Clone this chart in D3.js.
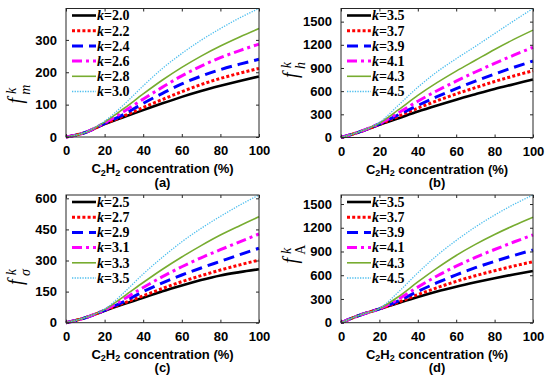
<!DOCTYPE html>
<html>
<head>
<meta charset="utf-8">
<script src="https://cdn.jsdelivr.net/npm/d3@7"></script>
<style>
body { margin: 0; background: #fff; }
</style>
</head>
<body>
<svg id="chart" width="550" height="377"></svg>
<script>
// C2H2 concentration (%) at which the curves were read
let conc = [0, 10, 20, 30, 40, 50, 60, 70, 80, 90, 100];
let xTicks = [0, 20, 40, 60, 80, 100];

// (a) f_m^k
let kA = ["2.0", "2.2", "2.4", "2.6", "2.8", "3.0"];
let fmA = [
    [0, 14, 40, 62, 83, 104, 124, 142, 158, 173, 187],
    [0, 14, 41, 65, 91, 116, 140, 162, 181, 197, 212],
    [0, 14, 42, 70, 104, 135, 164, 188, 208, 225, 240],
    [0, 14, 44, 79, 117, 154, 189, 219, 245, 267, 287],
    [0, 14, 46, 88, 133, 176, 215, 250, 281, 309, 335],
    [0, 15, 49, 100, 158, 212, 258, 299, 335, 368, 397]
];
let yTicksA = [0, 100, 200, 300];

// (b) f_h^k
let kB = ["3.5", "3.7", "3.9", "4.1", "4.3", "4.5"];
let fhB = [
    [0, 75, 165, 250, 336, 415, 490, 560, 628, 690, 752],
    [0, 75, 170, 275, 380, 475, 565, 645, 725, 797, 865],
    [0, 76, 175, 295, 415, 528, 632, 730, 822, 908, 990],
    [0, 77, 180, 320, 470, 605, 730, 848, 960, 1066, 1168],
    [0, 78, 185, 360, 545, 710, 860, 1000, 1140, 1270, 1390],
    [0, 80, 195, 420, 650, 850, 1020, 1180, 1345, 1510, 1670]
];
let yTicksB = [0, 300, 600, 900, 1200, 1500];

// (c) f_sigma^k
let kC = ["2.5", "2.7", "2.9", "3.1", "3.3", "3.5"];
let fsC = [
    [0, 24, 58, 90, 120, 152, 180, 206, 228, 244, 258],
    [0, 24, 59, 95, 130, 165, 198, 227, 254, 279, 302],
    [0, 24, 60, 102, 150, 192, 230, 264, 296, 328, 359],
    [0, 24, 61, 114, 170, 222, 270, 313, 352, 390, 428],
    [0, 25, 63, 127, 194, 258, 317, 372, 423, 468, 511],
    [0, 25, 65, 145, 235, 316, 390, 455, 513, 567, 616]
];
let yTicksC = [0, 150, 300, 450, 600];

// (d) f_A^k
let kD = ["3.5", "3.7", "3.9", "4.1", "4.3", "4.5"];
let faD = [
    [0, 97, 173, 250, 325, 395, 455, 510, 562, 610, 654],
    [0, 97, 174, 260, 355, 442, 522, 594, 657, 716, 771],
    [0, 97, 175, 275, 395, 505, 605, 695, 775, 850, 919],
    [0, 98, 176, 300, 450, 590, 715, 825, 925, 1020, 1109],
    [0, 98, 178, 330, 515, 690, 850, 990, 1115, 1228, 1332],
    [0, 99, 180, 390, 630, 850, 1040, 1210, 1360, 1495, 1614]
];
let yTicksD = [0, 300, 600, 900, 1200, 1500];

let lineStyles = [
    {color: "#000000", width: 2.6, dash: null},
    {color: "#ff0000", width: 3, dash: "3,2.2"},
    {color: "#0000ff", width: 3, dash: "11,6"},
    {color: "#ff00ff", width: 3, dash: "10,4,3,4"},
    {color: "#77ac30", width: 1.6, dash: null},
    {color: "#4dbeee", width: 1.3, dash: "1.3,1.3"}
];

let axisColor = "#262626";
let svg = d3.select("#chart");

function drawPanel(p) {
    let x = d3.scaleLinear().domain([0, 100]).range([p.left, p.left + p.w]);
    let ymax = d3.max(p.series, s => d3.max(s));
    let y = d3.scaleLinear().domain([0, ymax]).range([p.top + p.h, p.top]);

    let g = svg.append("g");

    // curves
    let line = d3.line()
        .x((d, i) => x(conc[i]))
        .y(d => y(d))
        .curve(d3.curveMonotoneX);

    p.series.forEach((s, i) => {
        let st = lineStyles[i];
        g.append("path")
            .attr("d", line(s))
            .attr("fill", "none")
            .attr("stroke", st.color)
            .attr("stroke-width", st.width)
            .attr("stroke-dasharray", st.dash);
    });

    // axes, ticks inward on all four sides
    let bottom = d3.axisBottom(x).tickValues(xTicks).tickSizeInner(-3).tickSizeOuter(0).tickPadding(9);
    let top = d3.axisTop(x).tickValues(xTicks).tickSizeInner(-3).tickSizeOuter(0).tickFormat("");
    let left = d3.axisLeft(y).tickValues(p.yTicks).tickSizeInner(-3).tickSizeOuter(0)
        .tickPadding(9).tickFormat(d3.format("d"));
    let right = d3.axisRight(y).tickValues(p.yTicks).tickSizeInner(-3).tickSizeOuter(0).tickFormat("");

    let ax = [
        g.append("g").attr("transform", "translate(0," + (p.top + p.h) + ")").call(bottom),
        g.append("g").attr("transform", "translate(0," + p.top + ")").call(top),
        g.append("g").attr("transform", "translate(" + p.left + ",0)").call(left),
        g.append("g").attr("transform", "translate(" + (p.left + p.w) + ",0)").call(right)
    ];
    ax.forEach(a => {
        a.select(".domain").remove();
        a.selectAll("line").attr("stroke", axisColor);
        a.selectAll("text")
            .attr("fill", "#000")
            .style("font-family", "'Liberation Sans', Arial, sans-serif")
            .style("font-weight", "bold")
            .style("font-size", "13px");
    });

    g.append("rect")
        .attr("x", p.left).attr("y", p.top)
        .attr("width", p.w).attr("height", p.h)
        .attr("fill", "none")
        .attr("stroke", axisColor)
        .attr("stroke-width", 1);

    // legend (no box)
    p.keys.forEach((k, i) => {
        let st = lineStyles[i];
        let ly = p.top + 7 + i * 15.2;
        g.append("line")
            .attr("x1", p.left + 6).attr("x2", p.left + 30)
            .attr("y1", ly).attr("y2", ly)
            .attr("stroke", st.color)
            .attr("stroke-width", st.width)
            .attr("stroke-dasharray", st.dash);
        let t = g.append("text")
            .attr("x", p.left + 31).attr("y", ly + 4.8)
            .style("font-family", "'Liberation Serif', 'Times New Roman', serif")
            .style("font-weight", "bold")
            .style("font-size", "14px");
        t.append("tspan").style("font-style", "italic").text("k");
        t.append("tspan").text("=" + k);
    });

    // x label
    let xl = g.append("text")
        .attr("x", p.left + p.w / 2).attr("y", p.top + p.h + 36)
        .attr("text-anchor", "middle")
        .style("font-family", "'Liberation Sans', Arial, sans-serif")
        .style("font-weight", "bold")
        .style("font-size", "13px");
    xl.append("tspan").text("C");
    xl.append("tspan").attr("dy", 2.5).style("font-size", "9px").text("2");
    xl.append("tspan").attr("dy", -2.5).text("H");
    xl.append("tspan").attr("dy", 2.5).style("font-size", "9px").text("2");
    xl.append("tspan").attr("dy", -2.5).text(" concentration (%)");

    g.append("text")
        .attr("x", p.left + p.w / 2).attr("y", p.top + p.h + 49.5)
        .attr("text-anchor", "middle")
        .style("font-family", "'Liberation Sans', Arial, sans-serif")
        .style("font-weight", "bold")
        .style("font-size", "13px")
        .text(p.tag);

    // y label f^k_sub
    let yl = g.append("text")
        .attr("transform", "translate(" + (p.left - 44) + "," + p.labelY + ") rotate(-90)")
        .attr("text-anchor", "middle")
        .style("font-family", "'Liberation Serif', 'Times New Roman', serif")
        .style("font-size", "20px")
        .style("font-style", "italic");
    yl.append("tspan").text("f");
    yl.append("tspan").attr("dx", 4).attr("dy", -6).style("font-size", "14px").text("k");
    yl.append("tspan").attr("dx", -7).attr("dy", 14).style("font-size", "14px")
        .style("font-style", p.subStyle).text(p.sub);
}

drawPanel({left: 66, top: 8.5, w: 193, h: 128.5, series: fmA, keys: kA, yTicks: yTicksA,
    sub: "m", subStyle: "italic", tag: "(a)", labelY: 94});
drawPanel({left: 341, top: 8.5, w: 192, h: 129, series: fhB, keys: kB, yTicks: yTicksB,
    sub: "h", subStyle: "italic", tag: "(b)", labelY: 70});
drawPanel({left: 66, top: 195, w: 193, h: 127.7, series: fsC, keys: kC, yTicks: yTicksC,
    sub: "σ", subStyle: "italic", tag: "(c)", labelY: 277});
drawPanel({left: 341, top: 195, w: 192, h: 127.7, series: faD, keys: kD, yTicks: yTicksD,
    sub: "A", subStyle: "normal", tag: "(d)", labelY: 254});
</script>
</body>
</html>
